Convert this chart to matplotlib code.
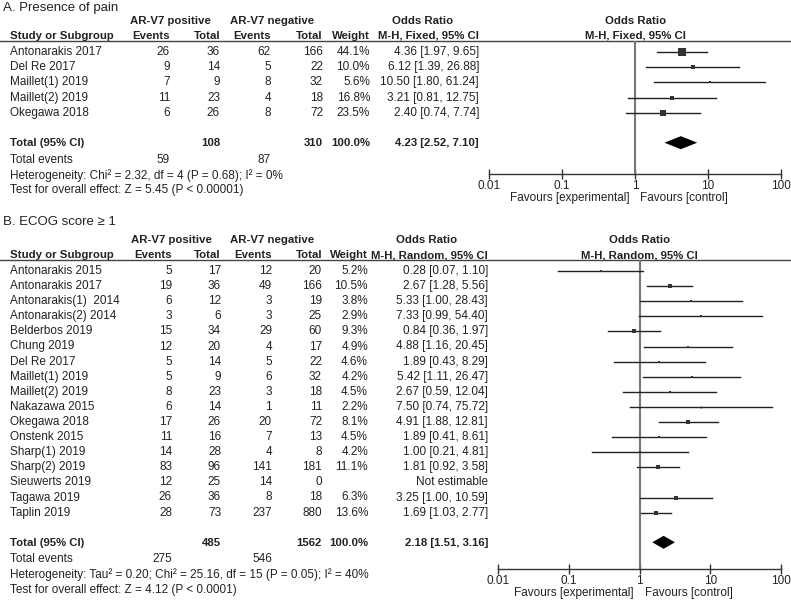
import numpy as np
import matplotlib
matplotlib.use('Agg')
import matplotlib.pyplot as plt
import matplotlib.transforms as mtrans

plt.rcParams['font.family'] = ['Liberation Sans', 'DejaVu Sans']

# A. Presence of pain
studies_a = ['Antonarakis 2017', 'Del Re 2017', 'Maillet(1) 2019', 'Maillet(2) 2019', 'Okegawa 2018']
pos_ev_a = [26, 9, 7, 11, 6]
pos_tot_a = [36, 14, 9, 23, 26]
neg_ev_a = [62, 5, 8, 4, 8]
neg_tot_a = [166, 22, 32, 18, 72]
weight_a = [44.1, 10.0, 5.6, 16.8, 23.5]
or_a = [4.36, 6.12, 10.50, 3.21, 2.40]
lo_a = [1.97, 1.39, 1.80, 0.81, 0.74]
hi_a = [9.65, 26.88, 61.24, 12.75, 7.74]
total_a = [108, 310]
events_a = [59, 87]
pooled_a = [4.23, 2.52, 7.10]
het_a = 'Heterogeneity: Chi\u00b2 = 2.32, df = 4 (P = 0.68); I\u00b2 = 0%'
test_a = 'Test for overall effect: Z = 5.45 (P < 0.00001)'

# B. ECOG score >= 1
studies_b = ['Antonarakis 2015', 'Antonarakis 2017', 'Antonarakis(1)  2014', 'Antonarakis(2) 2014',
             'Belderbos 2019', 'Chung 2019', 'Del Re 2017', 'Maillet(1) 2019', 'Maillet(2) 2019',
             'Nakazawa 2015', 'Okegawa 2018', 'Onstenk 2015', 'Sharp(1) 2019', 'Sharp(2) 2019',
             'Sieuwerts 2019', 'Tagawa 2019', 'Taplin 2019']
pos_ev_b = [5, 19, 6, 3, 15, 12, 5, 5, 8, 6, 17, 11, 14, 83, 12, 26, 28]
pos_tot_b = [17, 36, 12, 6, 34, 20, 14, 9, 23, 14, 26, 16, 28, 96, 25, 36, 73]
neg_ev_b = [12, 49, 3, 3, 29, 4, 5, 6, 3, 1, 20, 7, 4, 141, 14, 8, 237]
neg_tot_b = [20, 166, 19, 25, 60, 17, 22, 32, 18, 11, 72, 13, 8, 181, 0, 18, 880]
weight_b = [5.2, 10.5, 3.8, 2.9, 9.3, 4.9, 4.6, 4.2, 4.5, 2.2, 8.1, 4.5, 4.2, 11.1, np.nan, 6.3, 13.6]
or_b = [0.28, 2.67, 5.33, 7.33, 0.84, 4.88, 1.89, 5.42, 2.67, 7.50, 4.91, 1.89, 1.00, 1.81, np.nan, 3.25, 1.69]
lo_b = [0.07, 1.28, 1.00, 0.99, 0.36, 1.16, 0.43, 1.11, 0.59, 0.74, 1.88, 0.41, 0.21, 0.92, np.nan, 1.00, 1.03]
hi_b = [1.10, 5.56, 28.43, 54.40, 1.97, 20.45, 8.29, 26.47, 12.04, 75.72, 12.81, 8.61, 4.81, 3.58, np.nan, 10.59, 2.77]
total_b = [485, 1562]
events_b = [275, 546]
pooled_b = [2.18, 1.51, 3.16]
het_b = 'Heterogeneity: Tau\u00b2 = 0.20; Chi\u00b2 = 25.16, df = 15 (P = 0.05); I\u00b2 = 40%'
test_b = 'Test for overall effect: Z = 4.12 (P < 0.0001)'

ticks = [0.01, 0.1, 1, 10, 100]
tick_labels = ['0.01', '0.1', '1', '10', '100']

W, H = 791, 600
fig = plt.figure(figsize=(W / 100, H / 100), dpi=100)
main = fig.add_axes([0, 0, 1, 1])
main.set_xlim(0, W)
main.set_ylim(H, 0)
main.axis('off')

FS = 8.5
FSB = 8.2
TC = '#222222'


def txt(x, y, s, ha='left', bold=False, **kw):
    main.text(x, y, s, ha=ha, va='center', fontsize=FSB if bold else FS, color=TC,
              fontweight='bold' if bold else 'normal', **kw)


def panel(title, y0, hy1, hy2, line_y, studies, pe, pt, ne, nt, wt, ors, los, his, totals,
          events, pooled, het, test, method, cols, or_right, or_head, ax_left, row0, step, axis_y):
    main.text(3, y0, title, ha='left', va='center', fontsize=9.5, color=TC)
    txt((cols[0] + cols[1]) / 2 - 25, hy1, 'AR-V7 positive', ha='center', bold=True)
    txt((cols[2] + cols[3]) / 2 - 25, hy1, 'AR-V7 negative', ha='center', bold=True)
    txt(10, hy2, 'Study or Subgroup', bold=True)
    for c, lab in zip(cols, ['Events', 'Total', 'Events', 'Total', 'Weight']):
        txt(c, hy2, lab, ha='right', bold=True)
    txt(or_head, hy1, 'Odds Ratio', ha='center', bold=True)
    txt(or_right, hy2, 'M-H, %s, 95%% CI' % method, ha='right', bold=True)
    main.plot([0, W], [line_y, line_y], color='#444444', lw=1)

    ys = [row0 + i * step for i in range(len(studies))]
    for i, y in enumerate(ys):
        txt(10, y, studies[i])
        txt(cols[0], y, str(pe[i]), ha='right')
        txt(cols[1], y, str(pt[i]), ha='right')
        txt(cols[2], y, str(ne[i]), ha='right')
        txt(cols[3], y, str(nt[i]), ha='right')
        if np.isnan(ors[i]):
            txt(or_right, y, 'Not estimable', ha='right')
        else:
            txt(cols[4], y, '%.1f%%' % wt[i], ha='right')
            txt(or_right, y, '%.2f [%.2f, %.2f]' % (ors[i], los[i], his[i]), ha='right')

    ty = ys[-1] + 2 * step
    txt(10, ty, 'Total (95% CI)', bold=True)
    txt(cols[1], ty, str(totals[0]), ha='right', bold=True)
    txt(cols[3], ty, str(totals[1]), ha='right', bold=True)
    txt(cols[4], ty, '100.0%', ha='right', bold=True)
    txt(or_right, ty, '%.2f [%.2f, %.2f]' % tuple(pooled), ha='right', bold=True)
    txt(10, ty + 16.5, 'Total events')
    txt(cols[0], ty + 16.5, str(events[0]), ha='right')
    txt(cols[2], ty + 16.5, str(events[1]), ha='right')
    txt(10, ty + 32, het)
    txt(10, ty + 47, test)

    # forest plot: bottom spine is the OR axis, top edge at the header line
    ax = fig.add_axes([ax_left / W, 1 - axis_y / H, (781 - ax_left) / W, (axis_y - line_y) / H])
    ax.set_xscale('log')
    ax.set_xlim(0.01, 100)
    ax.set_ylim(axis_y, line_y)
    ax.patch.set_visible(False)
    for s in ['left', 'right', 'top']:
        ax.spines[s].set_visible(False)
    ax.spines['bottom'].set_color('#333333')
    ax.spines['bottom'].set_linewidth(1)
    ax.set_yticks([])
    ax.set_xticks(ticks)
    ax.set_xticklabels(tick_labels)
    ax.minorticks_off()
    ax.tick_params(axis='x', direction='inout', length=7, width=1, color='#333333',
                   labelsize=FS, labelcolor=TC, pad=1)
    ax.axvline(1, color='#777777', lw=1.5)

    for i, y in enumerate(ys):
        if np.isnan(ors[i]):
            continue
        ax.plot([los[i], his[i]], [y, y], color='#222222', lw=1)
        side = 1.2 * np.sqrt(wt[i])
        ax.plot(ors[i], y, marker='s', ms=side * 0.72, color='#333333', mew=0)

    est, lo, hi = pooled
    ax.fill([lo, est, hi, est], [ty - 0.5, ty - 7, ty - 0.5, ty + 6], color='black', lw=0)

    trans = mtrans.blended_transform_factory(ax.transData, main.transData)
    main.text(1, hy1, 'Odds Ratio', transform=trans, ha='center', va='center',
              fontsize=FSB, color=TC, fontweight='bold')
    main.text(1, hy2, 'M-H, %s, 95%% CI' % method, transform=trans, ha='center', va='center',
              fontsize=FSB, color=TC, fontweight='bold')
    fy = axis_y + 24
    main.text(1, fy, 'Favours [experimental]', ha='right', va='center', fontsize=FS, color=TC,
              transform=mtrans.offset_copy(trans, fig=fig, x=-6, units='dots'))
    main.text(1, fy, 'Favours [control]', ha='left', va='center', fontsize=FS, color=TC,
              transform=mtrans.offset_copy(trans, fig=fig, x=5, units='dots'))


panel('A. Presence of pain', 8, 21, 36, 41, studies_a, pos_ev_a, pos_tot_a, neg_ev_a, neg_tot_a,
      weight_a, or_a, lo_a, hi_a, total_a, events_a, pooled_a, het_a, test_a, 'Fixed',
      [170, 220, 271, 323, 370], 479, 423, 489.3, 52, 15.2, 174)
panel('B. ECOG score \u2265 1', 222, 240, 255, 260, studies_b, pos_ev_b, pos_tot_b, neg_ev_b,
      neg_tot_b, weight_b, or_b, lo_b, hi_b, total_b, events_b, pooled_b, het_b, test_b, 'Random',
      [172, 221, 272, 322, 368], 488, 427, 498.3, 271, 15.1, 569)

fig.savefig('out.png', dpi=100)
